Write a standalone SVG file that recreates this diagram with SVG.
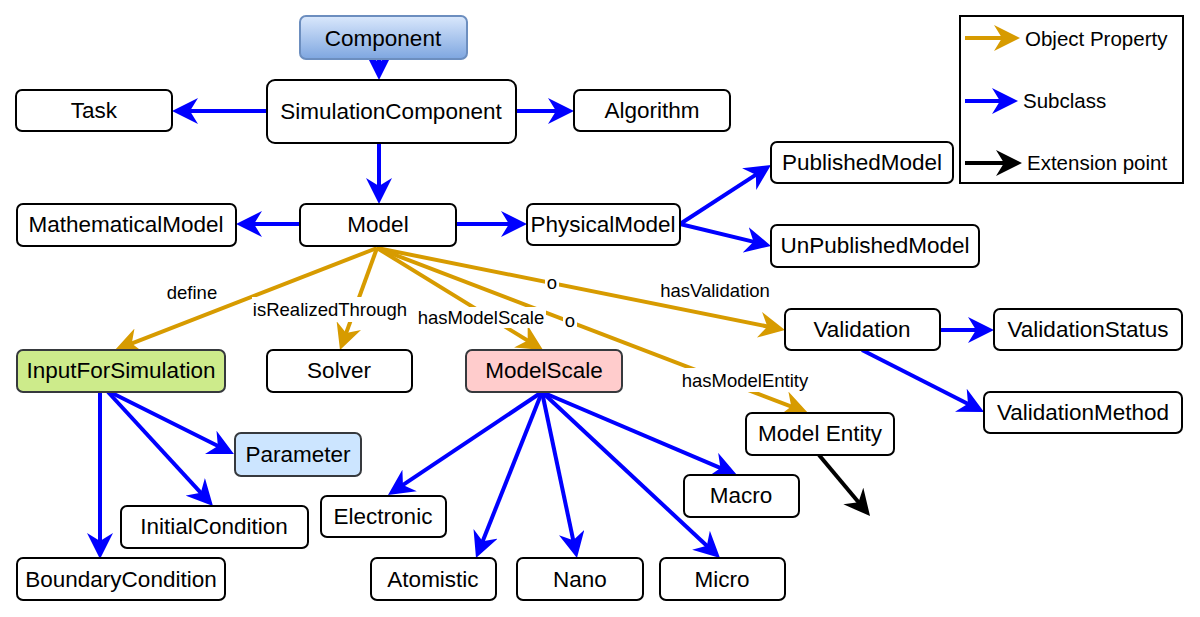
<svg xmlns="http://www.w3.org/2000/svg" width="1200" height="617" viewBox="0 0 1200 617">
<style>
.n rect{fill:#fff;stroke:#000;stroke-width:2}
.n text{font-family:"Liberation Sans",Arial,sans-serif;font-size:22.5px;fill:#000;text-anchor:middle}
.b{stroke:#0000ff;stroke-width:4;fill:none;marker-end:url(#ab)}
.o{stroke:#d79b00;stroke-width:4;fill:none;marker-end:url(#ao)}
.k{stroke:#000;stroke-width:4;fill:none;marker-end:url(#ak)}
.lbl{font-family:"Liberation Sans",Arial,sans-serif;font-size:18.5px;fill:#000;text-anchor:middle}
.lg{font-family:"Liberation Sans",Arial,sans-serif;font-size:20.5px;fill:#000}
</style>
<defs>
<linearGradient id="gc" x1="0" y1="0" x2="0" y2="1"><stop offset="0" stop-color="#dae8fc"/><stop offset="1" stop-color="#7ea6e0"/></linearGradient>
<marker id="ab" markerUnits="userSpaceOnUse" markerWidth="26" markerHeight="26" refX="16" refY="13" orient="auto"><path d="M0,0 L26,13 L0,26 L8,13 z" fill="#0000ff"/></marker>
<marker id="ao" markerUnits="userSpaceOnUse" markerWidth="26" markerHeight="26" refX="16" refY="13" orient="auto"><path d="M0,0 L26,13 L0,26 L8,13 z" fill="#d79b00"/></marker>
<marker id="ak" markerUnits="userSpaceOnUse" markerWidth="26" markerHeight="26" refX="16" refY="13" orient="auto"><path d="M0,0 L26,13 L0,26 L8,13 z" fill="#000"/></marker>
</defs>
<g id="connectors">
<line class="b" x1="379" y1="59" x2="379" y2="70"/>
<line class="b" x1="267" y1="111" x2="182" y2="111"/>
<line class="b" x1="516" y1="111" x2="564" y2="111"/>
<line class="b" x1="379" y1="143" x2="379" y2="194"/>
<line class="b" x1="300" y1="224" x2="246" y2="224"/>
<line class="b" x1="456" y1="224" x2="517" y2="224"/>
<line class="b" x1="680" y1="224" x2="762.6" y2="170.4"/>
<line class="b" x1="680" y1="224" x2="761.3" y2="243.6"/>
<line class="b" x1="940" y1="330" x2="984" y2="330"/>
<line class="b" x1="862" y1="350" x2="975.1" y2="407.5"/>
<line class="b" x1="100" y1="392" x2="100" y2="549"/>
<line class="b" x1="108" y1="392" x2="206.2" y2="498.6"/>
<line class="b" x1="110" y1="392" x2="225" y2="449.5"/>
<line class="b" x1="542" y1="392" x2="396.3" y2="489.4"/>
<line class="b" x1="542" y1="392" x2="479.7" y2="548.7"/>
<line class="b" x1="542" y1="392" x2="574.9" y2="548.2"/>
<line class="b" x1="542" y1="392" x2="712.7" y2="551.2"/>
<line class="b" x1="542" y1="392" x2="727.8" y2="471.1"/>
<line class="k" x1="819" y1="455" x2="863.6" y2="508.3"/>
<line class="o" x1="377" y1="248" x2="124.3" y2="346.4"/>
<line class="o" x1="377" y1="248" x2="343.4" y2="340.6"/>
<line class="o" x1="377" y1="248" x2="534.5" y2="344.8"/>
<line class="o" x1="377" y1="248" x2="775.2" y2="328"/>
<line class="o" x1="377" y1="248" x2="798.7" y2="409.4"/>
<g id="edge-labels">
<rect x="167" y="280" width="51" height="24" fill="#fff"/>
<text class="lbl" x="192" y="299">define</text>
<rect x="252" y="297" width="156" height="25" fill="#fff"/>
<text class="lbl" x="330" y="316">isRealizedThrough</text>
<rect x="417" y="307" width="129" height="21" fill="#fff"/>
<text class="lbl" x="481" y="324">hasModelScale</text>
<text class="lbl" x="715" y="297">hasValidation</text>
<rect x="682" y="368" width="127" height="24" fill="#fff"/>
<text class="lbl" x="745" y="387">hasModelEntity</text>
<rect x="545" y="273" width="14" height="18" fill="#fff"/>
<text class="lbl" x="552" y="289">o</text>
<rect x="563" y="311" width="14" height="18" fill="#fff"/>
<text class="lbl" x="570" y="327">o</text>
</g>
</g>
<g id="Component"><rect x="300" y="16" width="167" height="43" rx="6" fill="url(#gc)" stroke="#6c8ebf" stroke-width="2"/><text x="383" y="46" style="font-family:'Liberation Sans',Arial,sans-serif;font-size:22.5px;text-anchor:middle">Component</text></g>
<g id="Task" class="n"><rect x="16" y="90" width="156" height="41" rx="6"/><text x="94" y="118">Task</text></g>
<g id="SimulationComponent" class="n"><rect x="267" y="80" width="249" height="63" rx="8"/><text x="391" y="119">SimulationComponent</text></g>
<g id="Algorithm" class="n"><rect x="574" y="90" width="156" height="41" rx="6"/><text x="652" y="118">Algorithm</text></g>
<g id="PublishedModel" class="n"><rect x="771" y="142" width="182" height="41" rx="6"/><text x="862" y="170">PublishedModel</text></g>
<g id="MathematicalModel" class="n"><rect x="17" y="204" width="219" height="42" rx="6"/><text x="126" y="232">MathematicalModel</text></g>
<g id="Model" class="n"><rect x="300" y="204" width="156" height="42" rx="6"/><text x="378" y="232">Model</text></g>
<g id="PhysicalModel" class="n"><rect x="527" y="204" width="153" height="41" rx="6"/><text x="603" y="232">PhysicalModel</text></g>
<g id="UnPublishedModel" class="n"><rect x="771" y="225" width="208" height="42" rx="6"/><text x="875" y="253">UnPublishedModel</text></g>
<g id="Validation" class="n"><rect x="785" y="309" width="155" height="41" rx="6"/><text x="862" y="337">Validation</text></g>
<g id="ValidationStatus" class="n"><rect x="994" y="309" width="188" height="41" rx="6"/><text x="1088" y="337">ValidationStatus</text></g>
<g id="InputForSimulation"><rect x="17" y="350" width="208" height="42" rx="6" fill="#cdeb8b" stroke="#36393d" stroke-width="2"/><text x="121" y="378" style="font-family:'Liberation Sans',Arial,sans-serif;font-size:22.5px;text-anchor:middle">InputForSimulation</text></g>
<g id="Solver" class="n"><rect x="267" y="350" width="145" height="42" rx="6"/><text x="339" y="378">Solver</text></g>
<g id="ModelScale"><rect x="466" y="350" width="156" height="42" rx="6" fill="#ffcccc" stroke="#36393d" stroke-width="2"/><text x="544" y="378" style="font-family:'Liberation Sans',Arial,sans-serif;font-size:22.5px;text-anchor:middle">ModelScale</text></g>
<g id="ValidationMethod" class="n"><rect x="984" y="392" width="198" height="41" rx="6"/><text x="1083" y="420">ValidationMethod</text></g>
<g id="ModelEntity" class="n"><rect x="746" y="413" width="148" height="42" rx="6"/><text x="820" y="441">Model Entity</text></g>
<g id="Parameter"><rect x="235" y="433" width="126" height="43" rx="6" fill="#cce5ff" stroke="#36393d" stroke-width="2"/><text x="298" y="462" style="font-family:'Liberation Sans',Arial,sans-serif;font-size:22.5px;text-anchor:middle">Parameter</text></g>
<g id="Macro" class="n"><rect x="684" y="475" width="115" height="42" rx="6"/><text x="741" y="503">Macro</text></g>
<g id="Electronic" class="n"><rect x="321" y="496" width="125" height="41" rx="6"/><text x="383" y="524">Electronic</text></g>
<g id="InitialCondition" class="n"><rect x="121" y="506" width="187" height="42" rx="6"/><text x="214" y="534">InitialCondition</text></g>
<g id="BoundaryCondition" class="n"><rect x="17" y="558" width="208" height="42" rx="6"/><text x="121" y="587">BoundaryCondition</text></g>
<g id="Atomistic" class="n"><rect x="371" y="558" width="125" height="42" rx="6"/><text x="433" y="587">Atomistic</text></g>
<g id="Nano" class="n"><rect x="517" y="558" width="126" height="42" rx="6"/><text x="580" y="587">Nano</text></g>
<g id="Micro" class="n"><rect x="660" y="558" width="125" height="42" rx="6"/><text x="722" y="587">Micro</text></g>
<g id="legend">
<rect x="960" y="16" width="223" height="167" fill="#fff" stroke="#000" stroke-width="2"/>
<line class="o" x1="965" y1="38" x2="1010" y2="38"/>
<text class="lg" x="1025" y="46">Object Property</text>
<line class="b" x1="965" y1="101" x2="1008" y2="101"/>
<text class="lg" x="1023" y="108">Subclass</text>
<line class="k" x1="965" y1="163" x2="1012" y2="163"/>
<text class="lg" x="1027" y="170">Extension point</text>
</g>
</svg>
